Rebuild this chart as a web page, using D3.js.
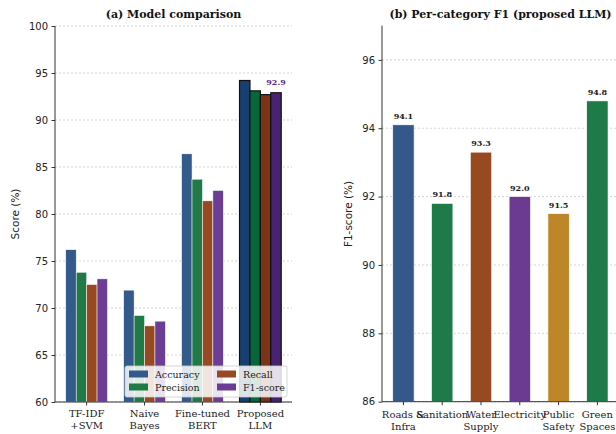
<!DOCTYPE html>
<html>
<head>
<meta charset="UTF-8">
<script src="https://d3js.org/d3.v7.min.js"></script>
<style>
  body { margin: 0; background: white; }
  svg { display: block; }
  .serif { font-family: "DejaVu Serif", serif; }
  .sans { font-family: "DejaVu Sans", sans-serif; }
</style>
</head>
<body>
<svg id="fig" width="616" height="434"></svg>
<script>
// panel (a) data
const models = [["TF-IDF", "+SVM"], ["Naive", "Bayes"], ["Fine-tuned", "BERT"], ["Proposed", "LLM"]];
const metrics = ["Accuracy", "Precision", "Recall", "F1-score"];
const accuracy  = [76.2, 71.9, 86.4, 94.2];
const precision = [73.8, 69.2, 83.7, 93.1];
const recall    = [72.5, 68.1, 81.4, 92.7];
const f1score   = [73.1, 68.6, 82.5, 92.9];
const yTicksA = [60, 65, 70, 75, 80, 85, 90, 95, 100];

// panel (b) data
const categories = [["Roads &", "Infra"], ["Sanitation"], ["Water", "Supply"], ["Electricity"], ["Public", "Safety"], ["Green", "Spaces"]];
const catF1 = [94.1, 91.8, 93.3, 92.0, 91.5, 94.8];
const yTicksB = [86, 88, 90, 92, 94, 96];

const seriesA = [accuracy, precision, recall, f1score];
const lightCols = ["#345a8c", "#1f7a48", "#974a22", "#6b3d95"];
const darkCols  = ["#173f72", "#06683a", "#7d3318", "#4a2272"];
const catCols = ["#34588a", "#1e7a48", "#974a20", "#6a3b90", "#bd8629", "#1e7a48"];

const svg = d3.select("#fig");

function gridAndAxis(g, y, ticks, x0, x1) {
  g.append("g").selectAll("line").data(ticks).join("line")
    .attr("x1", x0).attr("x2", x1)
    .attr("y1", d => y(d)).attr("y2", d => y(d))
    .attr("stroke", "#c8c8c8").attr("stroke-width", 0.8)
    .attr("stroke-dasharray", "2,2");
  const ax = g.append("g").attr("transform", `translate(${x0},0)`)
    .call(d3.axisLeft(y).tickValues(ticks).tickSize(3.5).tickPadding(3.5));
  ax.select(".domain").remove();
  ax.selectAll("line").attr("stroke", "#333");
  ax.selectAll("text").attr("class", "sans").style("font-size", "10px").attr("fill", "#222");
}

// ---------- panel (a) ----------
{
  const g = svg.append("g");
  const x = d3.scaleLinear().domain([-0.546, 3.546]).range([55, 292]);
  const y = d3.scaleLinear().domain([60, 100]).range([402, 26]);
  const w = 0.18;
  gridAndAxis(g, y, yTicksA, 55, 292);

  seriesA.forEach((vals, j) => {
    g.append("g").selectAll("rect").data(vals).join("rect")
      .attr("x", (d, i) => x(i + (j - 1.5) * w - w / 2))
      .attr("width", x(w) - x(0))
      .attr("y", d => y(d))
      .attr("height", d => y(60) - y(d))
      .attr("fill", (d, i) => i === 3 ? darkCols[j] : lightCols[j])
      .attr("stroke", (d, i) => i === 3 ? "#111" : "white")
      .attr("stroke-width", (d, i) => i === 3 ? 1.2 : 0.5);
  });

  // value label on proposed F1
  g.append("text").attr("class", "serif")
    .attr("x", x(3 + 1.5 * w)).attr("y", y(f1score[3]) - 7.4)
    .attr("text-anchor", "middle").style("font-size", "8px").style("font-weight", "bold")
    .attr("fill", "#5b2d8a").text(f1score[3].toFixed(1));

  // spines
  g.append("line").attr("x1", 55).attr("x2", 55).attr("y1", 26).attr("y2", 402).attr("stroke", "#333");
  g.append("line").attr("x1", 55).attr("x2", 292).attr("y1", 402).attr("y2", 402).attr("stroke", "#333");

  // x ticks
  models.forEach((lines, i) => {
    g.append("line").attr("x1", x(i)).attr("x2", x(i)).attr("y1", 402).attr("y2", 405.5).attr("stroke", "#333");
    lines.forEach((t, k) => {
      g.append("text").attr("class", "serif").attr("x", x(i)).attr("y", 416.5 + k * 12)
        .attr("text-anchor", "middle").style("font-size", "10px").attr("fill", "#222").text(t);
    });
  });

  // legend
  const lg = g.append("g").attr("transform", "translate(125,366)");
  lg.append("rect").attr("width", 162).attr("height", 31).attr("rx", 2)
    .attr("fill", "white").attr("fill-opacity", 0.85).attr("stroke", "#ccc").attr("stroke-width", 0.8);
  metrics.forEach((m, j) => {
    const col = Math.floor(j / 2), row = j % 2;
    const it = lg.append("g").attr("transform", `translate(${4 + col * 88},${8 + row * 13})`);
    it.append("rect").attr("y", -3.5).attr("width", 19).attr("height", 7).attr("fill", lightCols[j]);
    it.append("text").attr("class", "serif").attr("x", 26).attr("y", 3.5)
      .style("font-size", "9.5px").attr("fill", "#222").text(m);
  });

  g.append("text").attr("class", "sans")
    .attr("transform", "translate(19,214) rotate(-90)")
    .attr("text-anchor", "middle").style("font-size", "10.5px").attr("fill", "#222").text("Score (%)");
  g.append("text").attr("class", "serif").attr("x", 173.5).attr("y", 18)
    .attr("text-anchor", "middle").style("font-size", "11px").style("font-weight", "bold")
    .attr("fill", "#111").text("(a) Model comparison");
}

// ---------- panel (b) ----------
{
  const g = svg.append("g");
  const x = d3.scaleLinear().domain([-0.5525, 5.5525]).range([382, 618.8]);
  const y = d3.scaleLinear().domain([86, 97]).range([401.7, 25.7]);
  const w = 0.55;
  gridAndAxis(g, y, yTicksB, 382, 618.8);

  g.append("g").selectAll("rect").data(catF1).join("rect")
    .attr("x", (d, i) => x(i - w / 2))
    .attr("width", x(w) - x(0))
    .attr("y", d => y(d))
    .attr("height", d => y(86) - y(d))
    .attr("fill", (d, i) => catCols[i])
    .attr("stroke", "white").attr("stroke-width", 0.6);

  g.append("g").selectAll("text").data(catF1).join("text")
    .attr("class", "serif")
    .attr("x", (d, i) => x(i)).attr("y", d => y(d) - 6)
    .attr("text-anchor", "middle").style("font-size", "8px").style("font-weight", "bold")
    .attr("fill", "#222").text(d => d.toFixed(1));

  g.append("line").attr("x1", 382).attr("x2", 382).attr("y1", 25.7).attr("y2", 401.7).attr("stroke", "#333");
  g.append("line").attr("x1", 382).attr("x2", 618.8).attr("y1", 401.7).attr("y2", 401.7).attr("stroke", "#333");

  categories.forEach((lines, i) => {
    g.append("line").attr("x1", x(i)).attr("x2", x(i)).attr("y1", 401.7).attr("y2", 405.2).attr("stroke", "#333");
    lines.forEach((t, k) => {
      g.append("text").attr("class", "serif").attr("x", x(i)).attr("y", 417.5 + k * 12)
        .attr("text-anchor", "middle").style("font-size", "10px").attr("fill", "#222").text(t);
    });
  });

  g.append("text").attr("class", "sans")
    .attr("transform", "translate(352,214) rotate(-90)")
    .attr("text-anchor", "middle").style("font-size", "10.5px").attr("fill", "#222").text("F1-score (%)");
  g.append("text").attr("class", "serif").attr("x", 500.5).attr("y", 18)
    .attr("text-anchor", "middle").style("font-size", "11px").style("font-weight", "bold")
    .attr("fill", "#111").text("(b) Per-category F1 (proposed LLM)");
}
</script>
</body>
</html>
